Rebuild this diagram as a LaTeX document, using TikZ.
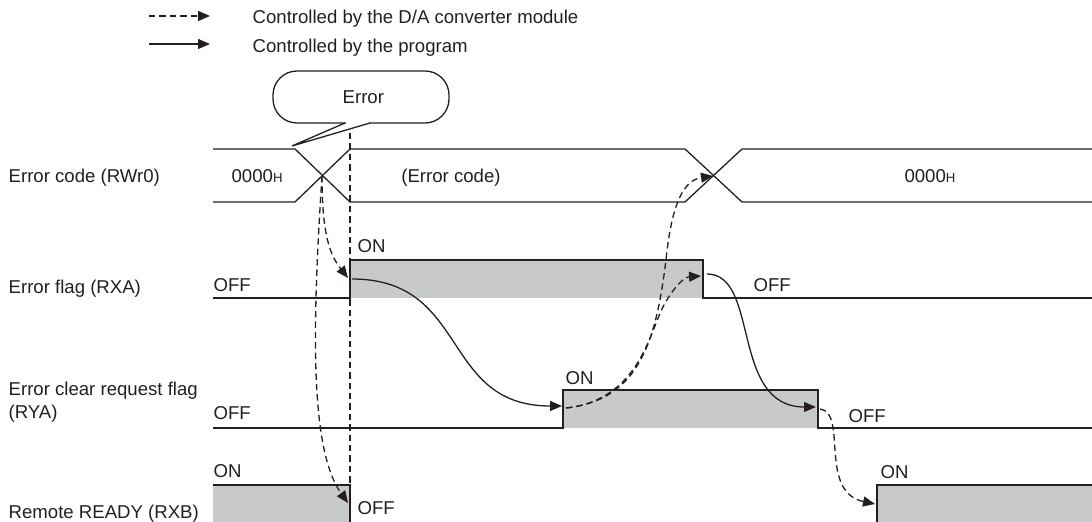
\documentclass[tikz,border=0pt]{standalone}
\usepackage{fontspec}
\setmainfont{Liberation Sans}
\usepackage{tikz}
\usetikzlibrary{arrows.meta}
\definecolor{Ink}{HTML}{231F20}
\definecolor{Level}{HTML}{C8C9CA}

\begin{document}
\begin{tikzpicture}[
      x=0.5pt, y=-0.5pt,
      font=\fontsize{9.3}{11}\selectfont,
      color=Ink, line width=0.65pt,
      lbl/.style={anchor=base west, inner sep=0pt},
      hi/.style={fill=Level, draw=none},
      tip/.style={-{Triangle[length=6pt,width=5pt]}},
      dsh/.style={tip, dash pattern=on 3.2pt off 2pt},
      ctl/.style={tip}
    ]
      \useasboundingbox (0,0) rectangle (1092,522);
      % legend
      \coordinate (lgA) at (149,16); \coordinate (lgB) at (210,16);
      \coordinate (lgC) at (149,44); \coordinate (lgD) at (210,44);
      \draw[dsh] (lgA) -- (lgB);
      \draw[ctl] (lgC) -- (lgD);
      \node[lbl] (lgmod) at (252,23.5) {Controlled by the D/A converter module};
      \node[lbl] (lgprg) at (252,52.5) {Controlled by the program};
      % signal names
      \node[lbl] (nRWr) at (8,182.5) {Error code (RWr0)};
      \node[lbl] (nRXA) at (8,293.5) {Error flag (RXA)};
      \node[lbl] (nRYA) at (8,396) {Error clear request flag};
      \node[lbl] (nRYb) at (8,419) {(RYA)};
      \node[lbl] (nRXB) at (8,519) {Remote READY (RXB)};
      % levels
      \fill[hi] (350,260) rectangle (703,298);
      \fill[hi] (563,390) rectangle (818,428);
      \fill[hi] (213,485) rectangle (350,530);
      \fill[hi] (877,485) rectangle (1100,530);
      \draw (213,149) -- (295,149) -- (350,202) -- (685,202) -- (742,149) -- (1092,149);
      \draw (213,202) -- (295,202) -- (350,149) -- (685,149) -- (742,202) -- (1092,202);
      \draw (213,298) -- (350,298) -- (350,260) -- (703,260) -- (703,298) -- (1092,298);
      \draw (213,428) -- (563,428) -- (563,390) -- (818,390) -- (818,428) -- (1092,428);
      \draw (213,485) -- (350,485) -- (350,530);
      \draw (877,530) -- (877,485) -- (1100,485);
      \draw[dash pattern=on 3.2pt off 2pt] (350,133) -- (350,530);
      % level texts
      \node[lbl] (c0) at (231,182.5) {0000{\fontsize{6.6}{7}\selectfont H}};
      \node[anchor=base, inner sep=0pt] (c1) at (451,182.5) {(Error code)};
      \node[anchor=base, inner sep=0pt] (c2) at (930,182.5) {0000{\fontsize{6.6}{7}\selectfont H}};
      \node[lbl] (a0) at (213,292) {OFF};
      \node[lbl] (a1) at (357,253) {ON};
      \node[lbl] (a2) at (753,292) {OFF};
      \node[lbl] (b0) at (213,420) {OFF};
      \node[lbl] (b1) at (565,385) {ON};
      \node[lbl] (b2) at (848,422.5) {OFF};
      \node[lbl] (r0) at (213,478) {ON};
      \node[lbl] (r1) at (357,515) {OFF};
      \node[lbl] (r2) at (880,479) {ON};
      % callout
      \draw[fill=white, rounded corners=12pt] (273,71) rectangle (449,123);
      \draw[white, line width=1.4pt] (346,123) -- (369,123);
      \draw (345,123) -- (292,146) -- (370,123);
      \node[lbl] (err) at (342,103.3) {Error};
      % edges
      \coordinate (xA) at (322,176);     \coordinate (xB) at (713,176);
      \coordinate (rxaUp) at (348,278);  \coordinate (rxaOn) at (352,279);
      \coordinate (rxaDn) at (701,276);  \coordinate (rxaOff) at (707,274);
      \coordinate (ryaUp) at (562,406);  \coordinate (ryaOn) at (566,408);
      \coordinate (ryaDn) at (816,407);  \coordinate (ryaOff) at (820,409);
      \coordinate (rxbDn) at (348,503);  \coordinate (rxbUp) at (875,504);
      \draw[dsh] (xA) .. controls (322,235) and (330,255) .. (rxaUp);
      \draw[dsh] (xA) .. controls (312,330) and (310,450) .. (rxbDn);
      \draw[ctl] (rxaOn) .. controls (470,279) and (440,406) .. (ryaUp);
      \draw[dsh] (ryaOn) .. controls (640,400) and (656,340) .. (666,260) .. controls (672,200) and (685,180) .. (xB);
      \draw[dsh] (ryaOn) .. controls (640,400) and (650,330) .. (664,305) .. controls (675,285) and (685,277) .. (rxaDn);
      \draw[ctl] (rxaOff) .. controls (760,274) and (730,407) .. (ryaDn);
      \draw[dsh] (ryaOff) .. controls (848,412) and (818,492) .. (rxbUp);
    \end{tikzpicture}
\end{document}
